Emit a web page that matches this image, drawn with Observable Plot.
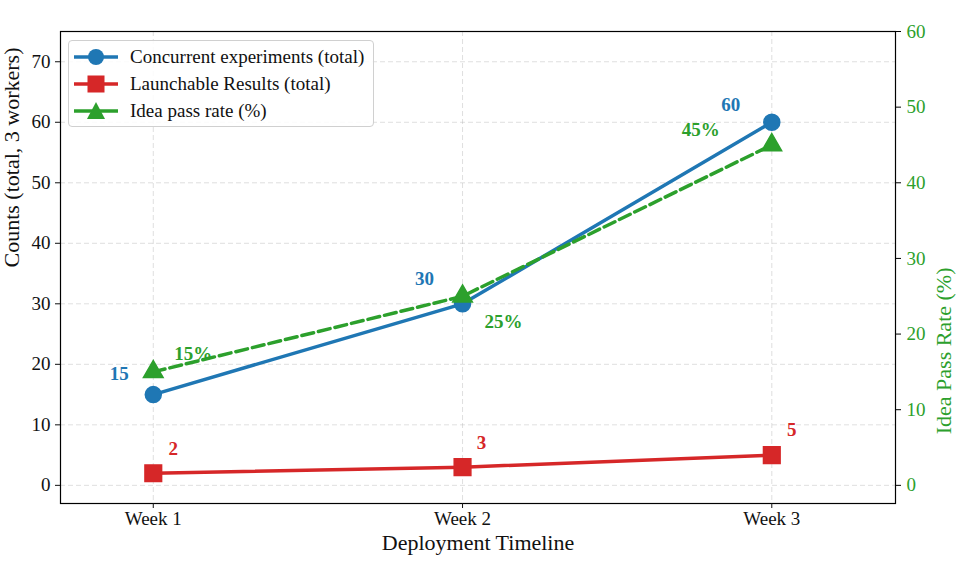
<!DOCTYPE html>
<html><head><meta charset="utf-8">
<script src="https://cdn.jsdelivr.net/npm/d3@7"></script>
<script src="https://cdn.jsdelivr.net/npm/@observablehq/plot@0.6"></script>
<style>
body{margin:0;background:#fff;}
#wrap{position:relative;width:970px;height:565px;font-family:"Liberation Serif","Times New Roman",serif;}
#legend{position:absolute;left:68px;top:40px;width:306px;height:87px;border:1px solid #d0d0d0;border-radius:4px;background:rgba(255,255,255,0.85);box-sizing:border-box;}
.row{position:absolute;left:0;height:26px;display:flex;align-items:center;font-size:19px;color:#111;white-space:nowrap;}
.row svg{margin-left:5px;margin-right:12px;}
</style></head>
<body><div id="wrap"><div id="chart"></div><div id="legend"></div></div>
<script>
const weeks = ["Week 1", "Week 2", "Week 3"];
const experiments = [15, 30, 60];
const launchable = [2, 3, 5];
const passRate = [15, 25, 45];
const leftTicks = [0, 10, 20, 30, 40, 50, 60, 70];
const rightTicks = [0, 10, 20, 30, 40, 50, 60];
const seriesNames = ["Concurrent experiments (total)", "Launchable Results (total)", "Idea pass rate (%)"];

const BLUE = "#1f77b4", RED = "#d62728", GREEN = "#2ca02c";
const K = 75 / 60; // right-axis units -> left-axis units

const rows = weeks.map((w, i) => ({i, week: w, exp: experiments[i], lau: launchable[i], rate: passRate[i] * K, pct: passRate[i]}));

function labels(field, color, fmt, offsets) {
  return offsets.map(([dx, dy], k) => Plot.text(rows, {
    filter: d => d.i === k, x: "i", y: field, text: fmt, dx, dy,
    fill: color, fontWeight: "bold", fontSize: 19
  }));
}

const chart = Plot.plot({
  width: 970, height: 565,
  marginLeft: 60, marginRight: 75, marginTop: 31, marginBottom: 62,
  style: {fontFamily: "'Liberation Serif','Times New Roman',serif", fontSize: "19px", background: "#fff", color: "#111"},
  x: {type: "linear", domain: [-0.3, 2.4]},
  y: {type: "linear", domain: [-3, 75]},
  marks: [
    Plot.gridX([0, 1, 2], {stroke: "#b0b0b0", strokeOpacity: 0.4, strokeDasharray: "5,3"}),
    Plot.gridY(leftTicks, {stroke: "#b0b0b0", strokeOpacity: 0.4, strokeDasharray: "5,3"}),
    Plot.frame({stroke: "#000", strokeWidth: 1.2}),
    Plot.axisX([0, 1, 2], {tickFormat: i => weeks[i], tickSize: 5, tickPadding: 3, label: null}),
    Plot.axisY(leftTicks, {anchor: "left", tickSize: 5, tickPadding: 5, label: null}),
    Plot.axisY(rightTicks.map(r => r * K), {anchor: "right", tickSize: 5, tickPadding: 6, tickFormat: v => String(Math.round(v / K)), stroke: "#000", fill: GREEN, label: null}),
    Plot.text(["Deployment Timeline"], {frameAnchor: "bottom", text: d => d, dy: 46, fontSize: 22, fill: "#111"}),
    Plot.text(["Counts (total, 3 workers)"], {frameAnchor: "left", text: d => d, dx: -49, rotate: -90, fontSize: 22, fill: "#111"}),
    Plot.text(["Idea Pass Rate (%)"], {frameAnchor: "right", text: d => d, dx: 48, rotate: -90, fontSize: 22, fill: GREEN}),
    Plot.line(rows, {x: "i", y: "exp", stroke: BLUE, strokeWidth: 3.5}),
    Plot.dot(rows, {x: "i", y: "exp", symbol: "circle", r: 8, fill: BLUE, stroke: BLUE}),
    Plot.line(rows, {x: "i", y: "lau", stroke: RED, strokeWidth: 3.5}),
    Plot.dot(rows, {x: "i", y: "lau", symbol: "square", r: 9.4, fill: RED, stroke: RED}),
    Plot.line(rows, {x: "i", y: "rate", stroke: GREEN, strokeWidth: 3.5, strokeDasharray: "12,5"}),
    Plot.dot(rows, {x: "i", y: "rate", symbol: "triangle", r: 7.3, fill: GREEN, stroke: GREEN}),
    ...labels("exp", BLUE, d => String(d.exp), [[-34, -21], [-38, -25], [-41, -17]]),
    ...labels("lau", RED, d => String(d.lau), [[20, -24], [19, -24], [20, -25]]),
    ...labels("rate", GREEN, d => d.pct + "%", [[40, -18], [41, 26], [-71, -15]])
  ]
});
document.getElementById("chart").appendChild(chart);

// Legend
const legendSpec = [
  {name: seriesNames[0], color: BLUE, sym: "circle"},
  {name: seriesNames[1], color: RED, sym: "square"},
  {name: seriesNames[2], color: GREEN, sym: "triangle"}
];
const leg = document.getElementById("legend");
legendSpec.forEach((s, k) => {
  const row = document.createElement("div");
  row.className = "row";
  row.style.top = (3 + 27 * k) + "px";
  let marker;
  if (s.sym === "circle") marker = `<circle cx="22" cy="10" r="8" fill="${s.color}"/>`;
  else if (s.sym === "square") marker = `<rect x="13.5" y="1.5" width="17" height="17" fill="${s.color}"/>`;
  else marker = `<path d="M22,1 L31,18 L13,18 Z" fill="${s.color}"/>`;
  row.innerHTML = `<svg width="44" height="20"><line x1="0" x2="44" y1="10" y2="10" stroke="${s.color}" stroke-width="3.5"/>${marker}</svg><span>${s.name}</span>`;
  leg.appendChild(row);
});
</script></body></html>
